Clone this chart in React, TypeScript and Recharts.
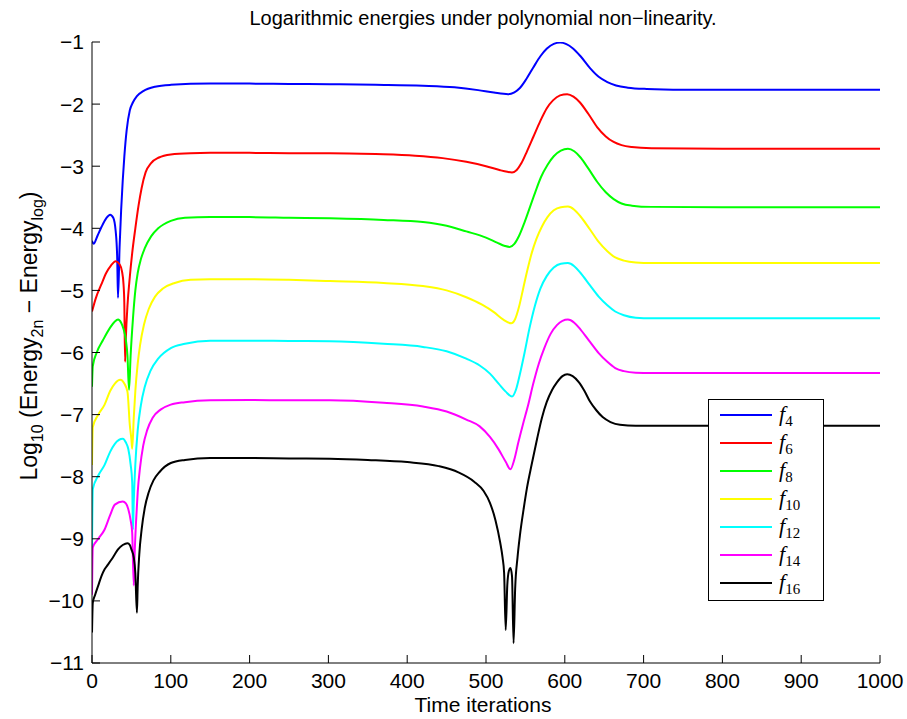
import React from 'react';
import { LineChart, Line, XAxis, YAxis, Legend } from 'recharts';

const xTicks = [0, 100, 200, 300, 400, 500, 600, 700, 800, 900, 1000];
const yTicks = [-11, -10, -9, -8, -7, -6, -5, -4, -3, -2, -1];
const seriesLabels = ['4', '6', '8', '10', '12', '14', '16'];
const seriesColors = ['#0000ff', '#ff0000', '#00ff00', '#ffff00', '#00ffff', '#ff00ff', '#000000'];

const f4: [number, number][] = [[0,-4.2],[2,-4.25],[7,-4.12],[12,-3.98],[18,-3.84],[23,-3.78],[27,-3.83],[30,-4.04],[32,-4.48],[33,-5.12],[35,-4.3],[37,-3.7],[39,-3.23],[41,-2.85],[44,-2.42],[48,-2.1],[52,-1.97],[57,-1.87],[65,-1.79],[80,-1.72],[100,-1.69],[150,-1.67],[200,-1.67],[250,-1.675],[302,-1.68],[360,-1.69],[420,-1.705],[460,-1.73],[490,-1.775],[510,-1.815],[528,-1.84],[536,-1.81],[543,-1.74],[551,-1.6],[560,-1.41],[569,-1.23],[577,-1.11],[586,-1.03],[594,-1.01],[602,-1.035],[610,-1.1],[620,-1.23],[632,-1.42],[643,-1.56],[654,-1.645],[665,-1.7],[680,-1.735],[704,-1.755],[750,-1.767],[850,-1.77],[1000,-1.77]];
const f6: [number, number][] = [[0,-5.34],[5,-5.12],[12,-4.9],[18,-4.72],[24,-4.6],[30,-4.53],[35,-4.58],[38,-4.69],[40,-4.9],[41,-5.2],[42,-6.15],[43,-5.75],[45,-5.25],[48,-4.78],[51,-4.4],[55,-4.0],[59,-3.64],[63,-3.35],[68,-3.1],[75,-2.95],[85,-2.86],[100,-2.81],[125,-2.79],[150,-2.785],[200,-2.785],[250,-2.79],[302,-2.79],[360,-2.805],[410,-2.83],[445,-2.87],[475,-2.93],[500,-3.0],[518,-3.065],[527,-3.09],[533,-3.1],[539,-3.06],[545,-2.95],[552,-2.76],[560,-2.53],[569,-2.27],[577,-2.07],[585,-1.94],[594,-1.86],[603,-1.84],[611,-1.88],[619,-1.97],[630,-2.16],[641,-2.37],[652,-2.52],[662,-2.61],[672,-2.66],[685,-2.69],[710,-2.71],[800,-2.72],[1000,-2.72]];
const f8: [number, number][] = [[0,-6.55],[1,-6.22],[6,-6.0],[14,-5.8],[23,-5.6],[29,-5.5],[33,-5.47],[37,-5.52],[40,-5.62],[43,-5.8],[45,-6.05],[47,-6.6],[49,-6.05],[52,-5.45],[55,-5.0],[58,-4.72],[62,-4.5],[67,-4.32],[75,-4.13],[84,-4.0],[100,-3.88],[118,-3.83],[150,-3.82],[200,-3.82],[250,-3.83],[302,-3.84],[370,-3.865],[420,-3.9],[450,-3.96],[475,-4.05],[500,-4.15],[514,-4.23],[524,-4.285],[530,-4.3],[536,-4.25],[542,-4.12],[549,-3.9],[556,-3.65],[563,-3.4],[570,-3.17],[578,-2.98],[586,-2.84],[595,-2.75],[604,-2.72],[612,-2.76],[620,-2.86],[630,-3.04],[641,-3.25],[652,-3.42],[662,-3.53],[672,-3.6],[685,-3.635],[710,-3.655],[800,-3.66],[1000,-3.66]];
const f10: [number, number][] = [[0,-7.81],[1,-7.2],[8,-7.0],[16,-6.84],[23,-6.62],[29,-6.5],[36,-6.44],[41,-6.5],[45,-6.63],[48,-7.17],[50,-7.4],[51,-7.55],[53,-7.05],[55,-6.62],[58,-6.18],[61,-5.88],[66,-5.55],[72,-5.3],[80,-5.1],[90,-4.97],[105,-4.88],[125,-4.83],[150,-4.82],[200,-4.82],[250,-4.83],[302,-4.85],[370,-4.88],[420,-4.93],[450,-5.0],[475,-5.11],[495,-5.23],[510,-5.35],[522,-5.47],[532,-5.53],[537,-5.46],[542,-5.26],[547,-4.98],[552,-4.7],[558,-4.4],[564,-4.17],[571,-3.97],[578,-3.82],[586,-3.71],[595,-3.66],[604,-3.65],[612,-3.7],[620,-3.81],[632,-4.02],[643,-4.22],[654,-4.37],[664,-4.47],[675,-4.52],[690,-4.55],[710,-4.56],[800,-4.56],[1000,-4.56]];
const f12: [number, number][] = [[0,-9.2],[1,-8.2],[8,-7.98],[16,-7.81],[23,-7.6],[29,-7.47],[39,-7.39],[43,-7.45],[46,-7.55],[49,-7.8],[51,-8.09],[52,-8.85],[53,-8.4],[55,-7.8],[58,-7.25],[62,-6.85],[67,-6.55],[74,-6.3],[84,-6.1],[100,-5.93],[118,-5.86],[150,-5.81],[200,-5.81],[250,-5.815],[302,-5.82],[370,-5.86],[420,-5.91],[450,-5.98],[475,-6.1],[492,-6.21],[505,-6.34],[516,-6.5],[525,-6.63],[533,-6.71],[538,-6.6],[543,-6.35],[549,-6.0],[555,-5.62],[562,-5.25],[569,-4.97],[577,-4.77],[586,-4.63],[595,-4.57],[604,-4.56],[612,-4.61],[620,-4.72],[632,-4.92],[643,-5.1],[654,-5.24],[664,-5.34],[675,-5.4],[690,-5.44],[710,-5.45],[800,-5.45],[1000,-5.45]];
const f14: [number, number][] = [[0,-9.9],[1,-9.14],[8,-9.0],[16,-8.85],[23,-8.62],[29,-8.45],[39,-8.4],[43,-8.43],[46,-8.52],[49,-8.7],[51,-8.9],[53,-9.75],[54,-9.3],[56,-8.7],[58,-8.25],[61,-7.85],[65,-7.5],[70,-7.25],[77,-7.05],[87,-6.92],[100,-6.84],[118,-6.8],[150,-6.77],[200,-6.765],[250,-6.77],[302,-6.77],[370,-6.81],[420,-6.87],[450,-6.95],[475,-7.08],[492,-7.19],[505,-7.36],[516,-7.56],[525,-7.76],[531,-7.88],[536,-7.72],[541,-7.45],[547,-7.15],[553,-6.87],[560,-6.5],[567,-6.18],[574,-5.93],[582,-5.7],[590,-5.56],[597,-5.49],[604,-5.47],[612,-5.52],[620,-5.63],[632,-5.83],[643,-6.01],[654,-6.15],[664,-6.25],[675,-6.3],[690,-6.325],[710,-6.33],[800,-6.33],[1000,-6.33]];
const f16: [number, number][] = [[0,-10.51],[1,-10.03],[4,-9.9],[8,-9.75],[12,-9.6],[16,-9.49],[20,-9.42],[25,-9.33],[29,-9.25],[33,-9.17],[39,-9.1],[45,-9.07],[48,-9.1],[50,-9.17],[53,-9.3],[55,-9.55],[57,-10.19],[58,-9.75],[60,-9.25],[63,-8.85],[67,-8.5],[72,-8.25],[78,-8.06],[86,-7.92],[100,-7.78],[118,-7.73],[150,-7.7],[200,-7.7],[250,-7.705],[302,-7.71],[350,-7.73],[400,-7.765],[440,-7.83],[465,-7.93],[485,-8.08],[497,-8.23],[505,-8.42],[512,-8.7],[518,-9.06],[521,-9.3],[523,-9.55],[525,-10.47],[527,-9.75],[529,-9.52],[531,-9.47],[533,-9.6],[535,-10.68],[537,-9.8],[540,-9.3],[543,-8.95],[548,-8.5],[552,-8.18],[558,-7.8],[565,-7.38],[571,-7.05],[577,-6.8],[584,-6.6],[590,-6.48],[597,-6.38],[603,-6.35],[610,-6.38],[618,-6.48],[625,-6.62],[632,-6.79],[640,-6.93],[648,-7.04],[658,-7.12],[670,-7.165],[690,-7.18],[1000,-7.18]];

const seriesData = [f4, f6, f8, f10, f12, f14, f16];
const toPoints = (arr: [number, number][]) => arr.map(([x, y]) => ({ x, y }));

const SANS = '"Liberation Sans", Arial, Helvetica, sans-serif';
const SERIF = '"Liberation Serif", "DejaVu Serif", serif';

const LegendBox = () => (
  <svg width={116} height={202} style={{ display: 'block' }}>
    <rect x={0.5} y={0.5} width={115} height={201} fill="#fff" stroke="#000" strokeWidth={1} />
    {seriesLabels.map((lab, i) => {
      const cy = 16 + i * 28;
      return (
        <g key={lab}>
          <line x1={12} x2={64} y1={cy} y2={cy} stroke={seriesColors[i]} strokeWidth={2} />
          <text x={71} y={cy + 6} fontFamily={SERIF} fontSize={22} fill="#000">
            <tspan fontStyle="italic">f</tspan>
            <tspan dy={5} fontSize={15}>{lab}</tspan>
          </text>
        </g>
      );
    })}
  </svg>
);

export default function App() {
  return (
    <div style={{ position: 'absolute', left: 0, top: 0, width: 907, height: 719, background: '#fff' }}>
      <LineChart width={907} height={719} margin={{ top: 42, right: 27, left: 0, bottom: 0 }}>
        <XAxis
          type="number"
          dataKey="x"
          domain={[0, 1000]}
          ticks={xTicks}
          interval={0}
          height={56}
          tickSize={-8}
          tickMargin={18}
          stroke="#000"
          tick={{ fill: '#000', fontSize: 21, fontFamily: SANS }}
          allowDataOverflow
        />
        <YAxis
          type="number"
          dataKey="y"
          domain={[-11, -1]}
          ticks={yTicks}
          interval={0}
          width={92}
          tickSize={-8}
          tickMargin={16}
          stroke="#000"
          tick={{ fill: '#000', fontSize: 21, fontFamily: SANS }}
          tickFormatter={(v: number) => String(v).replace('-', '\u2212')}
          allowDataOverflow
        />
        {seriesData.map((arr, i) => (
          <Line
            key={seriesLabels[i]}
            data={toPoints(arr)}
            dataKey="y"
            name={'f' + seriesLabels[i]}
            type="monotone"
            stroke={seriesColors[i]}
            strokeWidth={2}
            dot={false}
            activeDot={false}
            isAnimationActive={false}
          />
        ))}
        <Legend
          layout="horizontal"
          verticalAlign="middle"
          align="center"
          wrapperStyle={{ left: 708, top: 399, width: 116, height: 202 }}
          content={() => <LegendBox />}
        />
      </LineChart>
      <svg width={907} height={719} style={{ position: 'absolute', left: 0, top: 0, pointerEvents: 'none' }}>
        <text x={483} y={25} textAnchor="middle" fontFamily={SANS} fontSize={20} fill="#000">
          Logarithmic energies under polynomial non{'\u2212'}linearity.
        </text>
        <text x={483} y={712} textAnchor="middle" fontFamily={SANS} fontSize={21} fill="#000">
          Time iterations
        </text>
        <text transform="translate(37,336) rotate(-90)" textAnchor="middle" fontFamily={SANS} fontSize={23} fill="#000">
          Log<tspan dy={6} fontSize={16}>10</tspan>
          <tspan dy={-6}> (Energy</tspan>
          <tspan dy={6} fontSize={16}>2n</tspan>
          <tspan dy={-6}> {'\u2212'} Energy</tspan>
          <tspan dy={6} fontSize={16}>log</tspan>
          <tspan dy={-6}>)</tspan>
        </text>
      </svg>
    </div>
  );
}
